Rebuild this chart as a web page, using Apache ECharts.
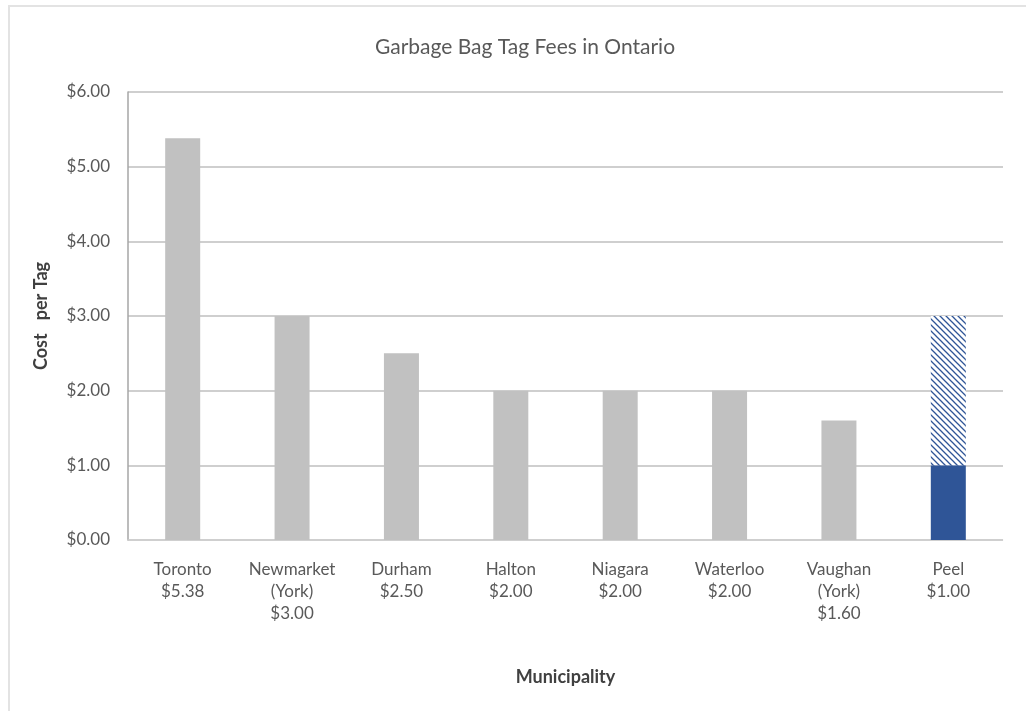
<!DOCTYPE html>
<html lang="en">
<head>
    <meta charset="UTF-8">
    <title>Garbage Bag Tag Fees in Ontario</title>
    <style>
        body { margin: 0; background: #fff; }
        #frame {
            position: absolute;
            left: 8px;
            top: 5px;
            width: 1030px;
            height: 720px;
            border-left: 2px solid #e3e3e3;
            border-top: 2px solid #e3e3e3;
        }
        #main { position: absolute; left: 0; top: 0; width: 1026px; height: 711px; }
    </style>
</head>
<body>
    <div id="frame"></div>
    <div id="main"></div>
    <script src="https://cdn.jsdelivr.net/npm/echarts@6/dist/echarts.min.js"></script>
    <script>
        // data
        var places = ['Toronto', 'Newmarket\n(York)', 'Durham', 'Halton', 'Niagara', 'Waterloo', 'Vaughan\n(York)', 'Peel'];
        var fees = [5.38, 3.00, 2.50, 2.00, 2.00, 2.00, 1.60, 1.00];
        var peelExtra = ['-', '-', '-', '-', '-', '-', '-', 2.00];
        var yTicks = [0, 1, 2, 3, 4, 5, 6];

        var labels = places.map(function (p, i) {
            return p + '\n$' + fees[i].toFixed(2);
        });

        // diagonal hatch for the Peel top part
        var hatch = document.createElement('canvas');
        hatch.width = 6;
        hatch.height = 6;
        var hc = hatch.getContext('2d');
        hc.fillStyle = '#ffffff';
        hc.fillRect(0, 0, 6, 6);
        hc.strokeStyle = '#2f5597';
        hc.lineWidth = 1.3;
        hc.beginPath();
        hc.moveTo(-1, -1); hc.lineTo(7, 7);
        hc.moveTo(-1, 5); hc.lineTo(1, 7);
        hc.moveTo(5, -1); hc.lineTo(7, 1);
        hc.stroke();

        var chart = echarts.init(document.getElementById('main'));
        var option = {
            animation: false,
            title: {
                text: 'Garbage Bag Tag Fees in Ontario',
                left: 520,
                textAlign: 'center',
                top: 32,
                textStyle: {
                    color: '#595959',
                    fontSize: 21,
                    fontWeight: 'normal',
                    fontFamily: 'Lato'
                }
            },
            grid: { left: 128, right: 23, top: 92, bottom: 171 },
            xAxis: {
                type: 'category',
                data: labels,
                name: 'Municipality',
                nameLocation: 'middle',
                nameGap: 128,
                nameTextStyle: { color: '#404040', fontSize: 18, fontWeight: 'bold', fontFamily: 'Lato' },
                axisLine: { lineStyle: { color: '#d0d0d0', type: 'dotted', width: 1.5 } },
                axisTick: { show: false },
                axisLabel: {
                    color: '#595959',
                    fontSize: 17,
                    fontFamily: 'Lato',
                    lineHeight: 22,
                    margin: 19,
                    interval: 0
                }
            },
            yAxis: {
                type: 'value',
                min: yTicks[0],
                max: yTicks[yTicks.length - 1],
                interval: 1,
                name: 'Cost   per Tag',
                nameLocation: 'middle',
                nameGap: 78,
                nameTextStyle: { color: '#404040', fontSize: 18, fontWeight: 'bold', fontFamily: 'Lato' },
                axisLine: { show: true, lineStyle: { color: '#a6a6a6', width: 1.5 } },
                axisTick: { show: false },
                splitLine: { lineStyle: { color: '#bfbfbf', width: 1.5 } },
                axisLabel: {
                    color: '#595959',
                    fontSize: 17,
                    fontFamily: 'Lato',
                    margin: 18,
                    formatter: function (v) { return '$' + v.toFixed(2); }
                }
            },
            series: [
                {
                    type: 'bar',
                    stack: 'fee',
                    barWidth: '32%',
                    data: fees.map(function (v, i) {
                        return i === fees.length - 1
                            ? { value: v, itemStyle: { color: '#2f5597' } }
                            : v;
                    }),
                    itemStyle: { color: '#c1c1c1' }
                },
                {
                    type: 'bar',
                    stack: 'fee',
                    barWidth: '32%',
                    data: peelExtra,
                    itemStyle: { color: { image: hatch, repeat: 'repeat' } }
                }
            ]
        };
        chart.setOption(option);
    </script>
</body>
</html>
